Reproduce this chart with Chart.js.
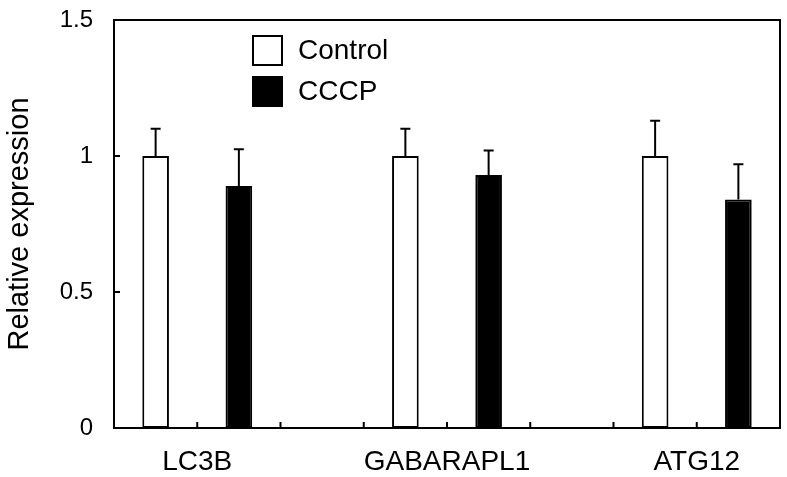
<!DOCTYPE html>
<html>
<head>
<meta charset="utf-8">
<script src="https://cdn.jsdelivr.net/npm/chart.js@4/dist/chart.umd.min.js"></script>
<style>
html,body{margin:0;padding:0;background:#fff;}
#wrap{width:787px;height:477px;position:relative;}
</style>
</head>
<body>
<div id="wrap"><canvas id="c" width="787" height="477"></canvas></div>
<script>
const genes = ['LC3B', 'GABARAPL1', 'ATG12'];
const controlValues = [1.0, 1.0, 1.0];
const controlErrors = [0.10, 0.10, 0.13];
const cccpValues = [0.89, 0.93, 0.84];
const cccpErrors = [0.135, 0.09, 0.13];
const yTicks = [0, 0.5, 1, 1.5];
const seriesNames = ['Control', 'CCCP'];

const FONT = '"Liberation Sans", Arial, Helvetica, sans-serif';
const slotsPerGene = 3;
const ctrlData = genes.map((g, i) => ({x: i * slotsPerGene + 0.5, y: controlValues[i]}));
const cccpData = genes.map((g, i) => ({x: i * slotsPerGene + 1.5, y: cccpValues[i]}));
const xMax = genes.length * slotsPerGene - 1;

const framePlugin = {
  id: 'frame',
  afterDatasetsDraw(chart) {
    const {ctx, chartArea: a, scales: {x, y}} = chart;
    ctx.save();
    ctx.strokeStyle = '#000';
    ctx.lineWidth = 2;
    const errs = [controlErrors, cccpErrors];
    const vals = [controlValues, cccpValues];
    chart.data.datasets.forEach((ds, di) => {
      const meta = chart.getDatasetMeta(di);
      meta.data.forEach((bar, i) => {
        const top = y.getPixelForValue(vals[di][i] + errs[di][i]);
        ctx.beginPath();
        ctx.moveTo(bar.x, bar.y);
        ctx.lineTo(bar.x, top);
        ctx.moveTo(bar.x - 5, top);
        ctx.lineTo(bar.x + 5, top);
        ctx.stroke();
      });
    });
    ctx.strokeRect(a.left, a.top, a.right - a.left, a.bottom - a.top);
    yTicks.forEach(v => {
      const py = y.getPixelForValue(v);
      ctx.beginPath(); ctx.moveTo(a.left, py); ctx.lineTo(a.left + 6, py); ctx.stroke();
    });
    for (let v = 1; v <= xMax; v++) {
      const px = x.getPixelForValue(v);
      ctx.beginPath(); ctx.moveTo(px, a.bottom); ctx.lineTo(px, a.bottom - 6); ctx.stroke();
    }
    const fills = ['#ffffff', '#000000'];
    ctx.font = '28px ' + FONT;
    ctx.textBaseline = 'middle';
    seriesNames.forEach((name, i) => {
      const bx = 253, by = 36 + i * 41;
      ctx.fillStyle = fills[i];
      ctx.fillRect(bx, by, 29, 29);
      ctx.strokeStyle = '#000';
      ctx.lineWidth = 2;
      ctx.strokeRect(bx, by, 29, 29);
      ctx.fillStyle = '#000';
      ctx.fillText(name, 298, by + 15);
    });
    ctx.restore();
  }
};

new Chart(document.getElementById('c'), {
  type: 'bar',
  data: {
    datasets: [
      {label: seriesNames[0], data: ctrlData, backgroundColor: '#ffffff', borderColor: '#000', borderWidth: 2, borderSkipped: false, grouped: false, barPercentage: 0.32, categoryPercentage: 1},
      {label: seriesNames[1], data: cccpData, backgroundColor: '#000000', borderColor: '#000', borderWidth: 2, borderSkipped: false, grouped: false, barPercentage: 0.32, categoryPercentage: 1}
    ]
  },
  plugins: [framePlugin],
  options: {
    responsive: false,
    animation: false,
    layout: {padding: {left: 0, top: 20, right: 7, bottom: 0}},
    plugins: {legend: {display: false}, tooltip: {enabled: false}},
    scales: {
      x: {
        type: 'linear', min: 0, max: genes.length * slotsPerGene - 1, offset: false,
        grid: {display: false, drawTicks: false, offset: false},
        border: {display: false},
        afterFit(s) { s.height = 49; s.paddingLeft = 0; s.paddingRight = 0; },
        afterBuildTicks(s) { s.ticks = []; for (let v = 0; v <= xMax; v++) s.ticks.push({value: v}); },
        ticks: {
          autoSkip: false, maxRotation: 0, padding: 17, color: '#000',
          font: {family: FONT, size: 28},
          callback(v) { return (v % slotsPerGene === 1) ? genes[(v - 1) / slotsPerGene] : ''; }
        }
      },
      y: {
        min: 0, max: 1.5,
        grid: {display: false, drawTicks: false},
        border: {display: false},
        afterFit(s) { s.width = 114; s.paddingTop = 0; s.paddingBottom = 0; },
        afterBuildTicks(s) { s.ticks = yTicks.map(v => ({value: v})); },
        ticks: {padding: 21, color: '#000', font: {family: FONT, size: 24}, callback(v) { return String(v); }},
        title: {display: true, text: 'Relative expression', color: '#000', font: {family: FONT, size: 29}, padding: {top: 3, bottom: 0}}
      }
    }
  }
});
</script>
</body>
</html>
